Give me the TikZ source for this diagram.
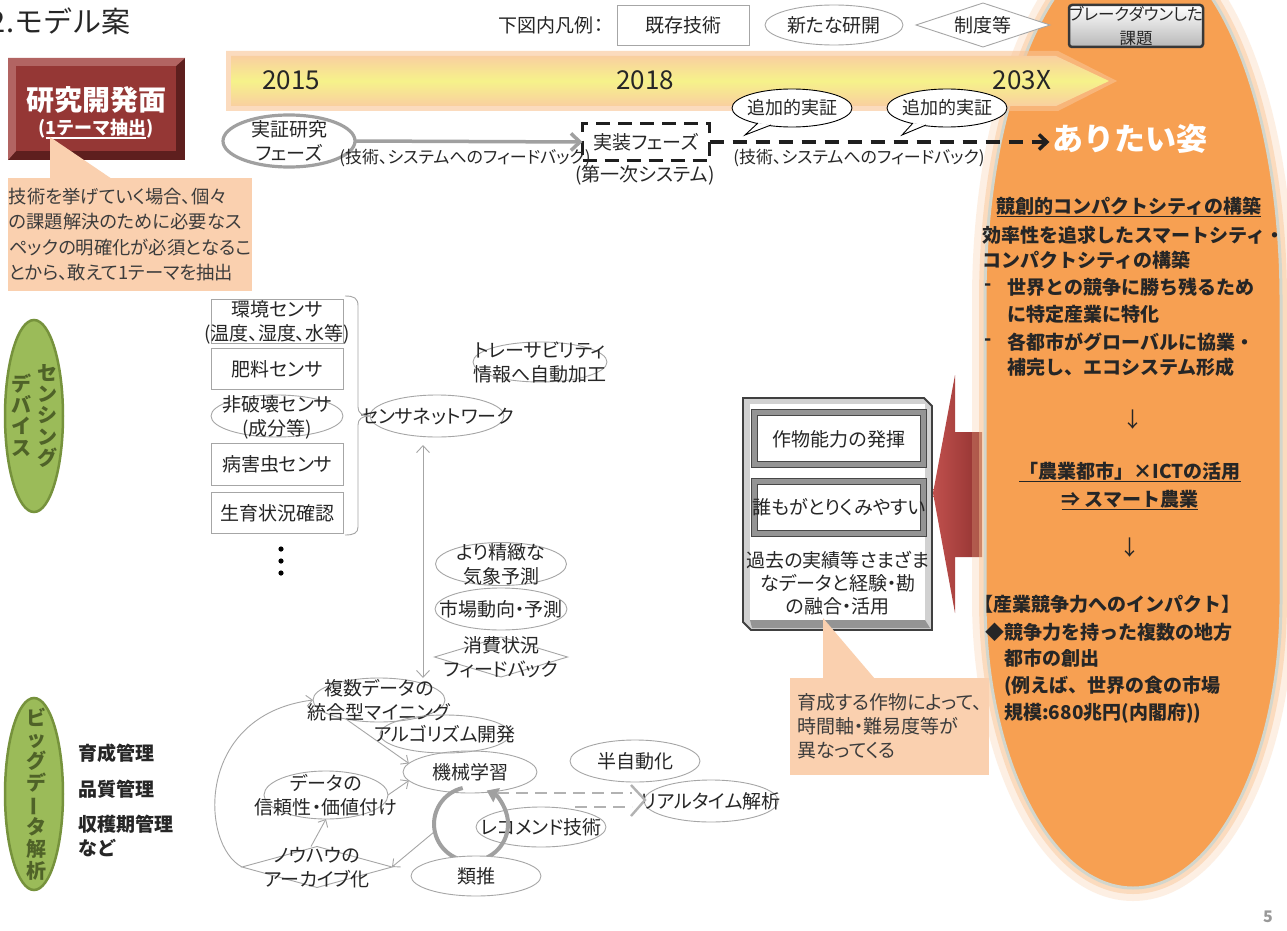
\documentclass[tikz,border=0pt]{standalone}
\usepackage{graphicx}
\usepackage{fontspec}
\setmainfont{Noto Sans CJK JP}[RawFeature=+palt]
\newfontfamily\fw{Noto Sans CJK JP}
\usetikzlibrary{shapes.geometric,arrows.meta,calc}
\definecolor{txt}{HTML}{262626}
\definecolor{lg}{HTML}{A6A6A6}
\definecolor{lgD}{HTML}{A0A0A0}
\definecolor{peach}{HTML}{FAD0AF}
\definecolor{rdF}{HTML}{953735}
\definecolor{rdL}{HTML}{B26462}
\definecolor{rdD}{HTML}{5E1F1E}
\definecolor{orF}{HTML}{F7A052}
\definecolor{orG}{HTML}{F9C393}
\definecolor{rim}{HTML}{D3D6CC}
\definecolor{grF}{HTML}{9BBB59}
\definecolor{grD}{HTML}{76923C}
\definecolor{grT}{HTML}{4F6228}
\definecolor{arL}{HTML}{C0504D}
\definecolor{arD}{HTML}{923331}
\definecolor{yel}{HTML}{F6F28A}
\definecolor{yelE}{HTML}{F9CFA0}
\definecolor{dsh}{HTML}{B2B2B2}
\newcommand\zt[1]{\makebox[0pt]{\raisebox{-0.37em}[0pt][0pt]{\begin{tabular}{@{}c@{}}#1\end{tabular}}}}
\newcommand\ulx[1]{\setbox0\hbox{#1}\rlap{\rule[-4pt]{\wd0}{1.6pt}}\box0}
\newcommand\fn{\fontsize{19}{24}\selectfont}
\newcommand\fnb{\fw\bfseries\fontsize{19}{24}\selectfont}
\tikzset{
 base/.style={font=\fn, text=txt, inner sep=0pt, outer sep=0pt},
 sz/.style 2 args={minimum width=#1, minimum height=#2},
 ell/.style={base, ellipse, draw=lg, line width=0.9pt},
 box/.style={base, rectangle, draw=lg, line width=0.9pt, fill=white},
 dia/.style={base, diamond, draw=lg, line width=0.9pt},
 link/.style={draw=lg, line width=0.9pt, -{Straight Barb[length=6pt,width=11pt]}},
 link2/.style={draw=lg, line width=0.9pt, {Straight Barb[length=7pt,width=13pt]}-{Straight Barb[length=7pt,width=13pt]}},
 rb/.style={font=\fnb, text=txt, inner sep=0pt, anchor=west},
 vt/.style={font=\fw\bfseries\fontsize{20}{21.3}\selectfont, text=grT, inner sep=0pt, align=center},
 callout/.style={base, fill=peach, align=left, text=txt!90},
 btn/.style={base, draw=black!72, double=black!42, double distance=5pt, line width=1pt, fill=white},
 dashln/.style={draw=dsh, line width=2.6pt, dash pattern=on 12pt off 7pt},
}
\newcommand\goalpath{(985,300) -- (985,600) arc[start angle=180, end angle=0, x radius=148, y radius=288] -- (1281,300) arc[start angle=0, end angle=-180, x radius=148, y radius=357] -- cycle}
\begin{document}
\begin{tikzpicture}[x=1pt,y=-1pt]
\fill[white] (0,0) rectangle (1287,931);
\useasboundingbox (0,0) rectangle (1287,931);

% ---- red arrow
\shade[left color=arL, right color=arD] (933,493) -- (955,375) -- (955,432) -- (982,432) -- (982,557) -- (955,557) -- (955,613) -- cycle;

% ---- goal shape
\draw[orG, opacity=0.25, line width=26pt] \goalpath;
\draw[orG, opacity=0.45, line width=12pt] \goalpath;
\filldraw[fill=orF, draw=rim, line width=3pt] \goalpath;
\coordinate (goal) at (1133,444);

% ---- timeline
\fill[orG, opacity=0.6] (226,51) -- (1058,51) -- (1117,81) -- (1058,111) -- (226,111) -- cycle;
\shade[top color=yelE, bottom color=yelE, middle color=yel] (231,56) -- (1056,56) -- (1109,81) -- (1056,106) -- (231,106) -- cycle;
\node[base, font=\fontsize{26}{28}\selectfont] (y15) at (291,80) {2015};
\node[base, font=\fontsize{26}{28}\selectfont] (y18) at (645,80) {2018};
\node[base, font=\fontsize{26}{28}\selectfont] (y3x) at (1022,80) {203X};

% ---- title
\node[base, anchor=west, font=\fw\fontsize{29}{31}\selectfont] (title) at (-10,21) {2.モデル案};

% ---- legend
\node[base] (lgtxt) at (551,25) {下図内凡例：};
\node[box, sz={132pt}{40pt}] (lgbox) at (683,25) {\zt{既存技術}};
\node[ell, fill=white, sz={138pt}{40pt}] (lgell) at (834,25) {\zt{新たな研開}};
\node[dia, fill=white, sz={134pt}{44pt}] (lgdia) at (983,25) {\zt{制度等}};
\node[base, font=\fontsize{16.5}{24}\selectfont, rounded corners=3pt, draw=black!78, line width=2.5pt, top color=white, bottom color=black!28, sz={134pt}{42pt}] (lgbd) at (1136,26) {\zt{ブレークダウンした\\課題}};

% ---- research box
\fill[rdD] (8,58) rectangle (185,160);
\fill[rdL] (8,58) -- (185,58) -- (176,66) -- (16,66) -- (16,151) -- (8,160) -- cycle;
\fill[rdF] (16,66) rectangle (176,151);
\node[base, font=\fw\bfseries\fontsize{28}{30}\selectfont, text=white] (rdA) at (96,100) {研究開発面};
\node[base, font=\fw\bfseries\fontsize{18}{20}\selectfont, text=white] (rdB) at (96,129) {(\ulx{1テーマ抽出})};

% ---- callout 1
\fill[peach] (50,137) -- (50,179) -- (112,179) -- cycle;
\node[callout, anchor=north west, sz={244pt}{113pt}, font=\fontsize{18.3}{25.5}\selectfont] (co1) at (8,178) {技術を挙げていく場合、個々\\の課題解決のために必要なス\\ペックの明確化が必須となるこ\\とから、敢えて1テーマを抽出};

% ---- phases
\node[ell, draw=lgD, line width=3.2pt, fill=white, sz={132pt}{52pt}] (jp) at (289,141) {\zt{実証研究\\フェーズ}};
\node[base, draw=black!88, line width=3.5pt, dash pattern=on 14pt off 8pt, sz={127pt}{37pt}] (impl) at (646,142) {\zt{実装フェーズ}};
\draw[draw=lgD, line width=3.5pt, -{Straight Barb[length=9pt,width=17pt]}] (jp.east) -- (impl.west);
\node[base] (impl2) at (645,175) {(第一次システム)};
\node[base, font=\fontsize{17}{22}\selectfont] (fb1) at (465,158) {(技術、システムへのフィードバック)};
\node[base, font=\fontsize{17}{22}\selectfont] (fb2) at (859,158) {(技術、システムへのフィードバック)};
\node[base, font=\fw\bfseries\fontsize{31}{34}\selectfont, text=white] (ari) at (1130,139) {ありたい姿};
\draw[black!88, line width=3.5pt, dash pattern=on 14pt off 9pt, -{Straight Barb[length=8pt,width=15pt]}, shorten >=3pt] (impl.east) -- (impl.east -| ari.west);

% ---- bubbles
\node[base, ellipse, draw=black, line width=0.9pt, fill=white, sz={120pt}{38pt}, font=\fontsize{18}{22}\selectfont] (bb1) at (792,108) {\zt{追加的実証}};
\draw[black, line width=0.9pt, fill=white] ($(bb1.center)+(-34,15)$) -- ($(bb1.center)+(-47,27)$) -- ($(bb1.center)+(-21,17)$);
\node[base, ellipse, draw=black, line width=0.9pt, fill=white, sz={120pt}{38pt}, font=\fontsize{18}{22}\selectfont] (bb2) at (947,108) {\zt{追加的実証}};
\draw[black, line width=0.9pt, fill=white] ($(bb2.center)+(-34,15)$) -- ($(bb2.center)+(-45,27)$) -- ($(bb2.center)+(-21,17)$);

% ---- right text block
\node[rb, anchor=center] (t1) at (1129,207) {\ulx{競創的コンパクトシティの構築}};
\node[rb] (t2) at (982,235) {効率性を追求したスマートシティ・};
\node[rb] (t3) at (982,260) {コンパクトシティの構築};
\node[rb] (t4d) at (984,287) {-};
\node[rb] (t4) at (1007,287) {世界との競争に勝ち残るため};
\node[rb] (t5) at (1007,314) {に特定産業に特化};
\node[rb] (t6d) at (984,342) {-};
\node[rb] (t6) at (1007,342) {各都市がグローバルに協業・};
\node[rb] (t7) at (1007,367) {補完し、エコシステム形成};
\node[base, font=\fw\fontsize{21}{24}\selectfont] (ar1) at (1133,420) {↓};
\node[rb, anchor=center] (t8) at (1130,472) {\ulx{「農業都市」×ICTの活用}};
\node[rb, anchor=center] (t9) at (1130,500) {\ulx{⇒ スマート農業}};
\node[base, font=\fw\fontsize{21}{24}\selectfont] (ar2) at (1130,548) {↓};
\node[rb] (t10) at (974,604) {【産業競争力へのインパクト】};
\node[rb] (t11) at (985,632) {◆競争力を持った複数の地方};
\node[rb] (t12) at (1004,658) {都市の創出};
\node[rb] (t13) at (1004,686) {(例えば、世界の食の市場};
\node[rb] (t14) at (1004,713) {規模:680兆円(内閣府))};

% ---- green ovals
\node[ellipse, fill=grF, draw=grD, line width=2.5pt, sz={58pt}{192pt}, inner sep=0pt] (sd) at (34,416) {};
\node[vt] (sdA) at (47,416) {セ\\ン\\シ\\ン\\グ};
\node[vt] (sdB) at (22,415) {デ\\バ\\イ\\ス};
\node[ellipse, fill=grF, draw=grD, line width=2.5pt, sz={58pt}{192pt}, inner sep=0pt] (bd) at (34,794) {};
\node[vt, font=\fw\bfseries\fontsize{20}{21.6}\selectfont] (bdt) at (37,794) {ビ\\ッ\\グ\\デ\\\rotatebox[origin=c]{90}{ー}\\タ\\解\\析};
\node[base, anchor=west, font=\fnb] (m1) at (78,753) {育成管理};
\node[base, anchor=west, font=\fnb] (m2) at (78,789) {品質管理};
\node[base, anchor=west, font=\fnb] (m3) at (78,824) {収穫期管理};
\node[base, anchor=west, font=\fnb] (m4) at (78,848) {など};

% ---- sensors
\node[box, sz={132pt}{44pt}] (s1) at (277,321) {\zt{環境センサ\\(温度、湿度、水等)}};
\node[box, sz={132pt}{41pt}] (s2) at (277,368.5) {\zt{肥料センサ}};
\node[ell, sz={132pt}{42pt}] (s3) at (277,416) {\zt{非破壊センサ\\(成分等)}};
\node[box, sz={132pt}{42pt}] (s4) at (277,464) {\zt{病害虫センサ}};
\node[box, sz={132pt}{41pt}] (s5) at (277,512.5) {\zt{生育状況確認}};
\node[ell, sz={134pt}{42pt}] (sn) at (437,416) {\zt{センサネットワーク}};
\draw[lg, line width=0.9pt] (345,296) .. controls (354,296) and (358,298) .. (358,306) -- (358,407) .. controls (358,413) and (362,416) .. (sn.west);
\draw[lg, line width=0.9pt] (sn.west) .. controls (362,416) and (358,419) .. (358,425) -- (358,527) .. controls (358,533) and (354,535) .. (345,535);
\fill[black] (281,549) circle (2.6);
\fill[black] (281,561) circle (2.6);
\fill[black] (281,573) circle (2.6);
\node[ell, sz={134pt}{40pt}] (tr) at (540,362) {\zt{トレーサビリティ\\情報へ自動加工}};

% ---- middle column
\coordinate (vtop) at (423,445);
\coordinate (vbot) at (423,678);
\draw[link2] (vtop) -- (vbot);
\node[ell, sz={131pt}{43pt}] (w1) at (501,564) {\zt{より精緻な\\気象予測}};
\node[ell, sz={132pt}{42pt}] (w2) at (501,609) {\zt{市場動向・予測}};
\node[dia, sz={133pt}{40pt}] (w3) at (501,657) {\zt{消費状況\\フィードバック}};

% ---- big data graph
\node[ell, sz={132pt}{44pt}] (md) at (379,700) {\zt{複数データの\\統合型マイニング}};
\node[ell, sz={130pt}{38pt}] (alg) at (445,734) {\zt{アルゴリズム開発}};
\node[ell, sz={134pt}{42pt}] (ml) at (470,772) {\zt{機械学習}};
\node[ell, sz={130pt}{42pt}] (semi) at (635,761) {\zt{半自動化}};
\node[ell, sz={134pt}{42pt}] (rt) at (711,801) {\zt{リアルタイム解析}};
\node[ell, sz={124pt}{48pt}] (rel) at (326,795) {\zt{データの\\信頼性・価値付け}};
\node[dia, sz={150pt}{41pt}] (kh) at (317,867) {\zt{ノウハウの\\アーカイブ化}};
\node[ell, fill=white, sz={130pt}{40pt}] (rec) at (541,827) {\zt{レコメンド技術}};
\draw[link] (md.-150) -- (ml.172);
\draw[link] (rel.east) -- (ml.-172);
\draw[link] ([xshift=-6pt]kh.north) -- (rel.south);
\draw[link] (kh.west) .. controls (200,845) and (195,715) .. (md.west);
\coordinate (loopL) at (434,832);
\draw[link] (loopL) -- (kh.east);
\coordinate (arcs) at (462.7,788);
\draw[lgD, line width=4pt, -{Triangle[length=11pt,width=15pt]}] (arcs) arc[start angle=257, end angle=-65, radius=37];
\node[ell, fill=white, sz={130pt}{40pt}] (ana) at (476,876) {\zt{類推}};
\draw[dashln] ($(ml.south)+(27,0)$) -- ($(rt.west)+(-12,-8)$);
\draw[dashln] ($(rec.north)+(34,0)$) -- ($(rt.west)+(-12,6)$);
\draw[dsh, line width=2.4pt] ($(rt.west)+(-13,-16)$) -- ($(rt.west)+(1,-1)$) -- ($(rt.west)+(-13,15)$);

% ---- panel
\draw[black!75, line width=1.8pt, fill=black!18] (743,398) -- (924,398) -- (932,406) -- (932,630) -- (751,630) -- (743,622) -- cycle;
\fill[white] (750,404) rectangle (925,620);
\fill[black!42] (750,620) -- (925,620) -- (930,628) -- (752,628) -- cycle;
\node[btn, sz={169pt}{52pt}] (bt1) at (839,438.5) {\zt{作物能力の発揮}};
\node[btn, sz={169pt}{52pt}] (bt2) at (839,507) {\zt{誰もがとりくみやすい}};
\node[base, font=\fontsize{19}{23}\selectfont] (pt) at (838,583) {\zt{過去の実績等さまざま\\なデータと経験・勘\\の融合・活用}};

% ---- callout 2
\fill[peach] (823,618) -- (823,679) -- (875,679) -- cycle;
\node[callout, anchor=north west, sz={199pt}{97pt}] (co2) at (790,678) {育成する作物によって、\\時間軸・難易度等が\\異なってくる};

% ---- page number
\node[base, font=\bfseries\fontsize{16}{18}\selectfont, text=black!40] (pg) at (1268,917) {5};
\end{tikzpicture}
\end{document}
